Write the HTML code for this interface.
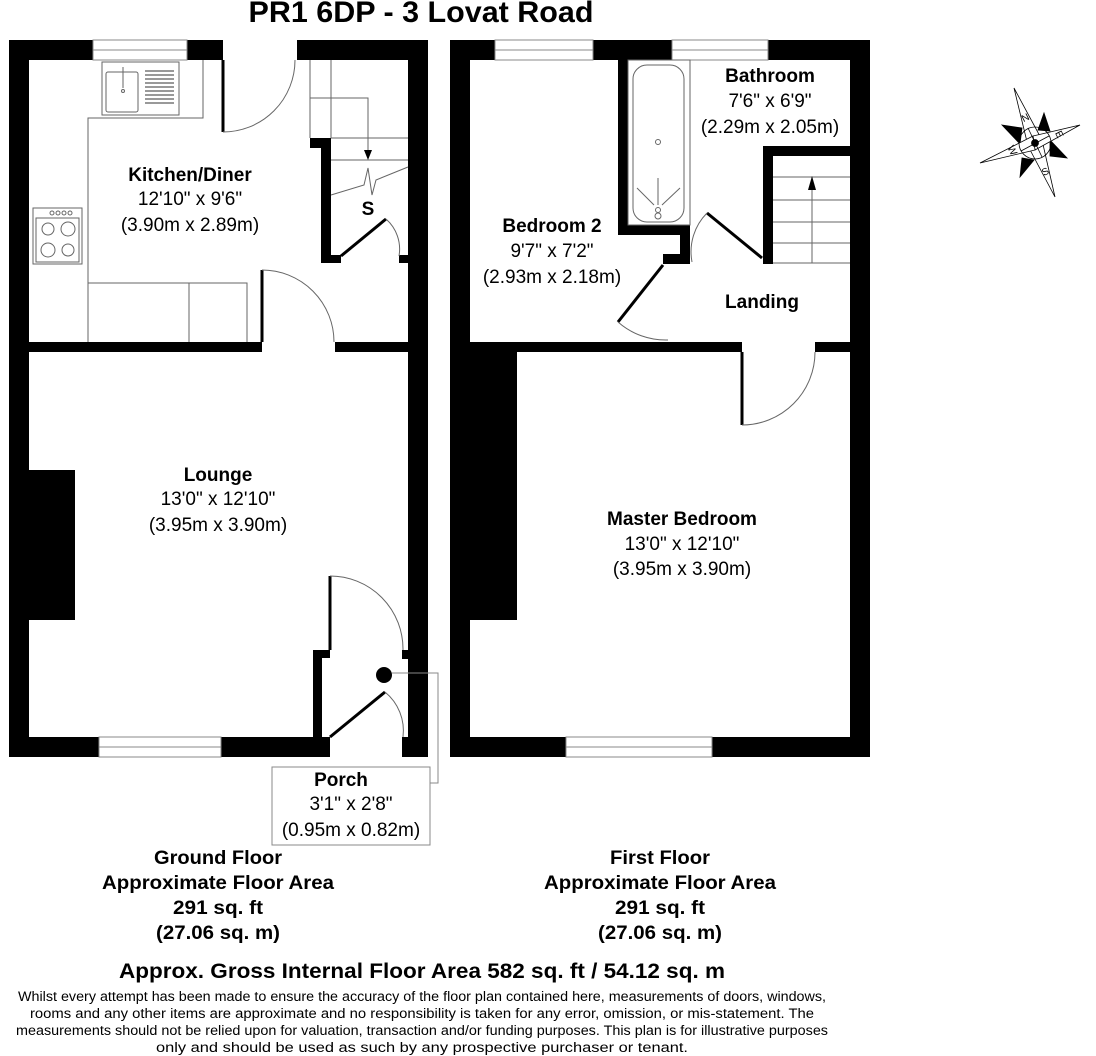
<!DOCTYPE html>
<html><head><meta charset="utf-8"><style>
html,body{margin:0;padding:0;background:#fff}
svg{display:block}
text{font-family:"Liberation Sans",Arial,sans-serif;fill:#000}
.b{font-weight:bold}
.n{font-family:"Liberation Sans Narrow","Liberation Sans",sans-serif}
</style></head><body>
<svg width="1096" height="1056" viewBox="0 0 1096 1056" xmlns="http://www.w3.org/2000/svg">
<rect width="1096" height="1056" fill="#fff"/>
<text x="421" y="22" text-anchor="middle" class="b" font-size="30" textLength="345" lengthAdjust="spacingAndGlyphs">PR1 6DP - 3 Lovat Road</text>

<!-- GROUND FLOOR -->
<g fill="#000">
<rect x="9" y="40" width="84" height="20"/>
<rect x="187" y="40" width="36" height="20"/>
<rect x="297" y="40" width="131" height="20"/>
<rect x="9" y="40" width="20" height="717"/>
<rect x="408" y="40" width="20" height="610"/>
<rect x="408" y="650" width="20" height="107"/>
<rect x="9" y="737" width="90" height="20"/>
<rect x="221" y="737" width="109" height="20"/>
<rect x="402" y="737" width="26" height="20"/>
<rect x="29" y="342" width="233" height="10"/>
<rect x="335" y="342" width="73" height="10"/>
<rect x="29" y="470" width="46" height="150"/>
<rect x="310" y="138" width="20" height="10"/>
<rect x="321" y="138" width="10" height="125"/>
<rect x="321" y="255" width="20" height="8"/>
<rect x="399" y="255" width="9" height="8"/>
<rect x="313" y="650" width="9" height="90"/>
<rect x="313" y="650" width="17" height="8"/>
<rect x="402" y="650" width="6" height="9"/>
<circle cx="384" cy="675" r="8"/>
</g>
<g fill="none" stroke="#000">
<rect x="93" y="40" width="94" height="20" stroke="#888" stroke-width="1"/>
<line x1="93" y1="50" x2="187" y2="50" stroke="#888"/>
<rect x="99" y="737" width="122" height="20" stroke="#888"/>
<line x1="99" y1="747" x2="221" y2="747" stroke="#888"/>
<line x1="223" y1="60" x2="223" y2="132" stroke-width="3"/>
<path d="M223 132 A72 72 0 0 0 295 60" stroke="#666"/>
<line x1="262" y1="270" x2="262" y2="342" stroke-width="3"/>
<path d="M262 270 A72 72 0 0 1 334 342" stroke="#666"/>
<line x1="341" y1="256" x2="386" y2="219" stroke-width="3"/>
<path d="M386 219 A40 40 0 0 1 399 256" stroke="#666"/>
<line x1="330" y1="576" x2="330" y2="650" stroke-width="3"/>
<path d="M330 576 A73 73 0 0 1 403 650" stroke="#666"/>
<line x1="330" y1="737" x2="385" y2="692" stroke-width="3"/>
<path d="M385 692 A50 50 0 0 1 403 737" stroke="#666"/>
<g stroke="#666" stroke-width="1">
<polyline points="88,342 88,118 203,118 203,60"/>
<polyline points="88,283 247,283 247,342"/>
<line x1="189" y1="283" x2="189" y2="342"/>
<rect x="102" y="62" width="77" height="53"/>
<rect x="106" y="72" width="32" height="40" rx="2"/>
<rect x="33" y="208" width="49" height="56"/>
<rect x="36" y="218" width="43" height="44"/>
<circle cx="48" cy="229" r="6"/><circle cx="68" cy="229" r="7"/>
<circle cx="48" cy="250" r="7"/><circle cx="68" cy="250" r="6"/>
<circle cx="52" cy="213" r="2"/><circle cx="58" cy="213" r="2"/><circle cx="64" cy="213" r="2"/><circle cx="70" cy="213" r="2"/>
<line x1="123" y1="67" x2="123" y2="88"/><circle cx="123" cy="91" r="1.5"/>
</g>
<g stroke="#333" stroke-width="1">
<line x1="145" y1="71" x2="174" y2="71"/><line x1="145" y1="75" x2="174" y2="75"/><line x1="145" y1="79" x2="174" y2="79"/><line x1="145" y1="83" x2="174" y2="83"/><line x1="145" y1="87" x2="174" y2="87"/><line x1="145" y1="91" x2="174" y2="91"/><line x1="145" y1="95" x2="174" y2="95"/><line x1="145" y1="99" x2="174" y2="99"/><line x1="145" y1="103" x2="174" y2="103"/>
</g>
<g stroke="#666" stroke-width="1">
<line x1="310" y1="60" x2="310" y2="138"/>
<line x1="331" y1="60" x2="331" y2="138"/>
<polyline points="310,98 368,98 368,150"/>
<line x1="331" y1="138" x2="408" y2="138"/>
<line x1="331" y1="160" x2="408" y2="160"/>
<polyline points="331,195 364,185 368,168 372,195 376,180 408,167"/>
</g>
<polyline points="392,673 438,673 438,783 430,783" stroke="#888"/>
<rect x="272" y="767" width="158" height="78" stroke="#888"/>
</g>
<polygon points="364,150 372,150 368,160" fill="#000"/>
<text x="368" y="215" text-anchor="middle" class="b" font-size="19">S</text>

<!-- FIRST FLOOR -->
<g fill="#000">
<rect x="450" y="40" width="45" height="20"/>
<rect x="593" y="40" width="79" height="20"/>
<rect x="768" y="40" width="102" height="20"/>
<rect x="450" y="40" width="20" height="717"/>
<rect x="850" y="40" width="20" height="717"/>
<rect x="450" y="737" width="116" height="20"/>
<rect x="712" y="737" width="158" height="20"/>
<rect x="618" y="60" width="10" height="175"/>
<rect x="618" y="225" width="72" height="10"/>
<rect x="680" y="225" width="10" height="38"/>
<rect x="663" y="254" width="27" height="10"/>
<rect x="763" y="146" width="10" height="118"/>
<rect x="763" y="146" width="87" height="10"/>
<rect x="470" y="342" width="272" height="10"/>
<rect x="815" y="342" width="35" height="10"/>
<rect x="470" y="352" width="47" height="268"/>
</g>
<g fill="none" stroke="#000">
<rect x="495" y="40" width="98" height="20" stroke="#888"/>
<line x1="495" y1="50" x2="593" y2="50" stroke="#888"/>
<rect x="672" y="40" width="96" height="20" stroke="#888"/>
<line x1="672" y1="50" x2="768" y2="50" stroke="#888"/>
<rect x="566" y="737" width="146" height="20" stroke="#888"/>
<line x1="566" y1="747" x2="712" y2="747" stroke="#888"/>
<g stroke="#666" stroke-width="1">
<rect x="628" y="60" width="62" height="165"/>
<rect x="633" y="65" width="51" height="157" rx="14"/>
<circle cx="658" cy="142" r="2.5"/>
<line x1="658" y1="178" x2="658" y2="205"/><line x1="637" y1="188" x2="654" y2="205"/><line x1="680" y1="188" x2="662" y2="205"/>
<circle cx="658" cy="210" r="2.5"/><rect x="655" y="213" width="6" height="6" rx="3"/>
<line x1="773" y1="177" x2="850" y2="177"/><line x1="773" y1="200" x2="850" y2="200"/><line x1="773" y1="222" x2="850" y2="222"/><line x1="773" y1="243" x2="850" y2="243"/><line x1="773" y1="263" x2="850" y2="263"/>
<line x1="812" y1="263" x2="812" y2="186"/>
</g>
<line x1="663" y1="265" x2="618" y2="322" stroke-width="3"/>
<path d="M618 322 A72 72 0 0 0 668 340" stroke="#666"/>
<line x1="707" y1="213" x2="762" y2="258" stroke-width="3"/>
<path d="M707 213 A55 55 0 0 0 692 262" stroke="#666"/>
<line x1="742" y1="352" x2="742" y2="425" stroke-width="3"/>
<path d="M742 425 A73 73 0 0 0 815 352" stroke="#666"/>
</g>
<polygon points="808,190 816,190 812,176" fill="#000"/>

<!-- compass -->
<g stroke="#000" stroke-width="0.8">
<polygon points="1002,125 1022,128 1020,144" fill="#000"/>
<polygon points="1044,113 1050,131 1038,130" fill="#000"/>
<polygon points="1067,158 1050,156 1050,140" fill="#000"/>
<polygon points="1020,177 1022,158 1034,160" fill="#000"/>
<polygon points="1014,88 1042,140 1028,146" fill="#fff"/>
<polygon points="1055,197 1028,146 1042,140" fill="#fff"/>
<polygon points="1080,125 1035,150 1033,136" fill="#fff"/>
<polygon points="980,163 1033,136 1035,150" fill="#fff"/>
<circle cx="1035" cy="143" r="16" fill="none"/>
<line x1="1021" y1="151" x2="1049" y2="136"/><line x1="1028" y1="128" x2="1042" y2="157"/>
<circle cx="1035" cy="143" r="3.5" fill="#000"/>
</g>
<text x="1025" y="121" font-size="10" transform="rotate(-27 1025 117)" text-anchor="middle">N</text>
<text x="1045" y="175" font-size="10" transform="rotate(-27 1045 171)" text-anchor="middle">S</text>
<text x="1060" y="138" font-size="10" transform="rotate(63 1060 134)" text-anchor="middle">E</text>
<text x="1013" y="154" font-size="10" transform="rotate(63 1013 150)" text-anchor="middle">W</text>

<g text-anchor="middle" font-size="19">
<text x="190" y="181" class="b">Kitchen/Diner</text>
<text x="190" y="205">12'10" x 9'6"</text>
<text x="190" y="231">(3.90m x 2.89m)</text>
<text x="218" y="481" class="b">Lounge</text>
<text x="218" y="505">13'0" x 12'10"</text>
<text x="218" y="531">(3.95m x 3.90m)</text>
<text x="341" y="786" class="b">Porch</text>
<text x="351" y="810">3'1" x 2'8"</text>
<text x="351" y="836">(0.95m x 0.82m)</text>
<text x="770" y="82" class="b">Bathroom</text>
<text x="770" y="107">7'6" x 6'9"</text>
<text x="770" y="133">(2.29m x 2.05m)</text>
<text x="552" y="232" class="b">Bedroom 2</text>
<text x="552" y="257">9'7" x 7'2"</text>
<text x="552" y="283">(2.93m x 2.18m)</text>
<text x="762" y="308" class="b">Landing</text>
<text x="682" y="525" class="b">Master Bedroom</text>
<text x="682" y="550">13'0" x 12'10"</text>
<text x="682" y="575">(3.95m x 3.90m)</text>
</g>

<g text-anchor="middle" class="b n" font-size="19">
<text x="218" y="864" textLength="128" lengthAdjust="spacingAndGlyphs">Ground Floor</text>
<text x="218" y="889" textLength="232" lengthAdjust="spacingAndGlyphs">Approximate Floor Area</text>
<text x="218" y="914" textLength="90" lengthAdjust="spacingAndGlyphs">291 sq. ft</text>
<text x="218" y="939" textLength="124" lengthAdjust="spacingAndGlyphs">(27.06 sq. m)</text>
<text x="660" y="864" textLength="100" lengthAdjust="spacingAndGlyphs">First Floor</text>
<text x="660" y="889" textLength="232" lengthAdjust="spacingAndGlyphs">Approximate Floor Area</text>
<text x="660" y="914" textLength="90" lengthAdjust="spacingAndGlyphs">291 sq. ft</text>
<text x="660" y="939" textLength="124" lengthAdjust="spacingAndGlyphs">(27.06 sq. m)</text>
<text x="422" y="978" font-size="21" textLength="606" lengthAdjust="spacingAndGlyphs">Approx. Gross Internal Floor Area 582 sq. ft / 54.12 sq. m</text>
</g>
<g text-anchor="middle" class="n" font-size="13.5">
<text x="422" y="1001" textLength="808" lengthAdjust="spacingAndGlyphs">Whilst every attempt has been made to ensure the accuracy of the floor plan contained here, measurements of doors, windows,</text>
<text x="422" y="1018" textLength="784" lengthAdjust="spacingAndGlyphs">rooms and any other items are approximate and no responsibility is taken for any error, omission, or mis-statement. The</text>
<text x="422" y="1035" textLength="812" lengthAdjust="spacingAndGlyphs">measurements should not be relied upon for valuation, transaction and/or funding purposes. This plan is for illustrative purposes</text>
<text x="422" y="1052" textLength="532" lengthAdjust="spacingAndGlyphs">only and should be used as such by any prospective purchaser or tenant.</text>
</g>
</svg>
</body></html>
